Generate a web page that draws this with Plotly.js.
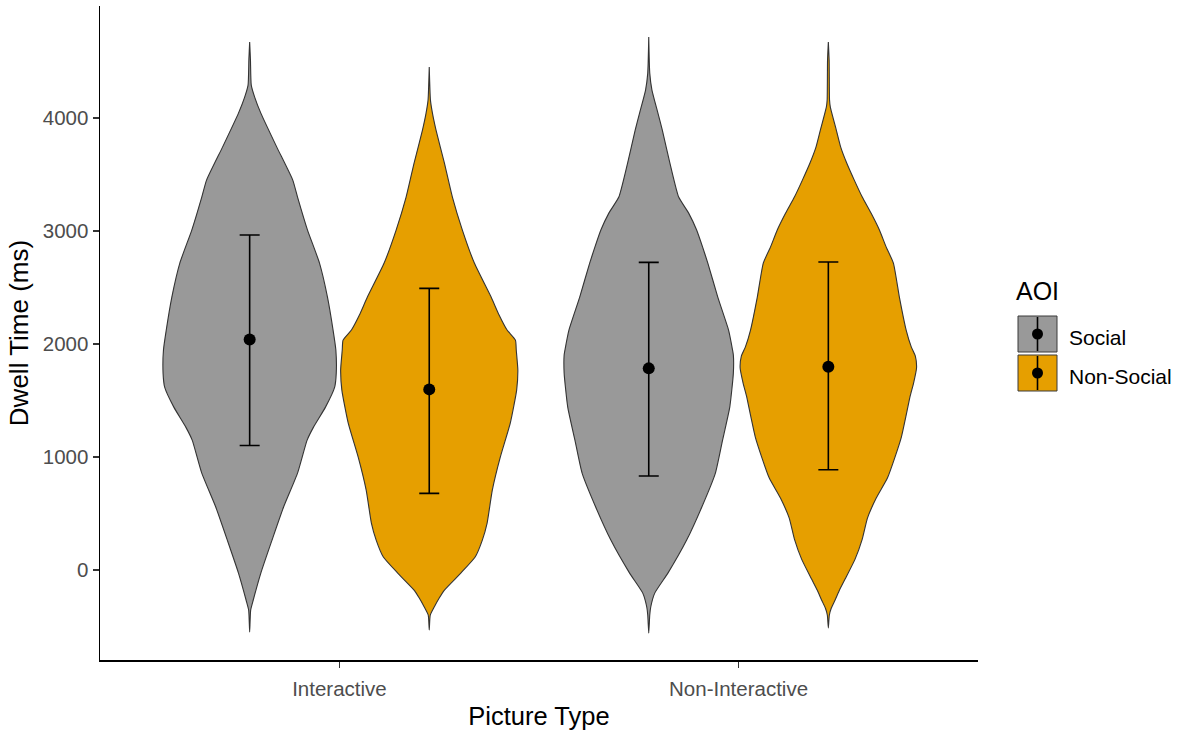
<!DOCTYPE html>
<html>
<head>
<meta charset="utf-8">
<script src="https://cdn.plot.ly/plotly-3.0.1.min.js"></script>
<style>
  html, body { margin: 0; padding: 0; background: #ffffff; }
  #chart { width: 1181px; height: 731px; }
</style>
</head>
<body>
<div id="chart"></div>
<script>
// ---------------- DATA ----------------
const categories = ['Interactive', 'Non-Interactive'];
const aoiGroups = ['Social', 'Non-Social'];
const yTicks = [0, 1000, 2000, 3000, 4000];

// Violin outlines: dwell-time levels (ms) and the half-width of the density at each level (x-axis units)
const interactiveSocialY = [-549, -354, -265, -27, 265, 558, 858, 1150, 1265, 1442, 1619, 1743, 1947, 2124, 2416, 2717, 3009, 3301, 3451, 3743, 4044, 4186, 4292, 4513, 4673];
const interactiveSocialHalfWidth = [0, 0.0025, 0.009, 0.028, 0.056, 0.085, 0.120, 0.144, 0.160, 0.190, 0.213, 0.217, 0.216, 0.209, 0.195, 0.175, 0.145, 0.120, 0.108, 0.068, 0.028, 0.0125, 0.004, 0.002, 0];

const interactiveNonSocialY = [-531, -398, -327, -248, -177, -27, 115, 265, 416, 708, 1000, 1301, 1593, 1770, 1947, 2035, 2124, 2257, 2416, 2717, 3009, 3301, 3602, 3894, 4044, 4159, 4451];
const interactiveNonSocialHalfWidth = [0, 0.0025, 0.0125, 0.025, 0.038, 0.079, 0.115, 0.133, 0.145, 0.158, 0.178, 0.203, 0.219, 0.222, 0.218, 0.216, 0.195, 0.175, 0.155, 0.113, 0.083, 0.058, 0.038, 0.017, 0.008, 0.003, 0];

const nonInteractiveSocialY = [-558, -398, -327, -204, -27, 265, 558, 858, 1150, 1442, 1743, 1903, 1947, 2124, 2416, 2717, 2858, 3009, 3159, 3301, 3602, 3894, 4044, 4248, 4398, 4717];
const nonInteractiveSocialHalfWidth = [0, 0.0025, 0.005, 0.015, 0.048, 0.095, 0.133, 0.167, 0.185, 0.203, 0.212, 0.212, 0.210, 0.200, 0.173, 0.148, 0.135, 0.120, 0.100, 0.075, 0.053, 0.034, 0.023, 0.008, 0.0025, 0];

const nonInteractiveNonSocialY = [-513, -398, -336, -265, -177, -80, 97, 274, 460, 637, 814, 1000, 1177, 1354, 1540, 1646, 1788, 1894, 1973, 2124, 2416, 2717, 2858, 3009, 3159, 3301, 3451, 3602, 3743, 3894, 4097, 4159, 4513, 4673];
const nonInteractiveNonSocialHalfWidth = [0, 0.0025, 0.0075, 0.017, 0.028, 0.042, 0.067, 0.085, 0.098, 0.120, 0.148, 0.167, 0.183, 0.194, 0.205, 0.213, 0.221, 0.218, 0.208, 0.195, 0.178, 0.163, 0.145, 0.128, 0.107, 0.085, 0.065, 0.046, 0.031, 0.020, 0.005, 0.003, 0.002, 0];

// Means and error-bar ends (ms), one value per category
const socialMean = [2041, 1785];
const socialUpper = [2965, 2723];
const socialLower = [1103, 832];
const nonSocialMean = [1599, 1800];
const nonSocialUpper = [2493, 2726];
const nonSocialLower = [679, 888];

// ---------------- STYLE ----------------
const FONT = '"Liberation Sans", Arial, sans-serif';
const fillColors = {'Social': '#999999', 'Non-Social': '#E69F00'};
const dodge = {'Social': -0.225, 'Non-Social': 0.225};
const W = 1181, H = 731;
const M = {l: 100, r: 203, t: 6, b: 71};
const plotW = W - M.l - M.r, plotH = H - M.t - M.b;
const pxX = px => (px - M.l) / plotW;
const pxY = py => (H - M.b - py) / plotH;

const violinSets = [
  {cat: 0, grp: 'Social', y: interactiveSocialY, hw: interactiveSocialHalfWidth},
  {cat: 0, grp: 'Non-Social', y: interactiveNonSocialY, hw: interactiveNonSocialHalfWidth},
  {cat: 1, grp: 'Social', y: nonInteractiveSocialY, hw: nonInteractiveSocialHalfWidth},
  {cat: 1, grp: 'Non-Social', y: nonInteractiveNonSocialY, hw: nonInteractiveNonSocialHalfWidth}
];

const traces = [];
violinSets.forEach(v => {
  const center = v.cat + 1 + dodge[v.grp];
  const xs = [], ys = [];
  for (let i = 0; i < v.y.length; i++) { xs.push(center + v.hw[i]); ys.push(v.y[i]); }
  for (let i = v.y.length - 1; i >= 0; i--) { xs.push(center - v.hw[i]); ys.push(v.y[i]); }
  traces.push({
    type: 'scatter', mode: 'lines', x: xs, y: ys,
    fill: 'toself', fillcolor: fillColors[v.grp],
    line: {color: '#333333', width: 1.1, shape: 'spline', smoothing: 0.5},
    hoverinfo: 'skip', showlegend: false
  });
});

function summaryTrace(grp, means, uppers, lowers) {
  const xs = categories.map((c, i) => i + 1 + dodge[grp]);
  return {
    type: 'scatter', mode: 'markers', x: xs, y: means,
    marker: {color: '#000000', size: 12},
    error_y: {
      type: 'data', symmetric: false,
      array: means.map((m, i) => uppers[i] - m),
      arrayminus: means.map((m, i) => m - lowers[i]),
      color: '#000000', thickness: 1.6, width: 10
    },
    showlegend: false, name: grp
  };
}
traces.push(summaryTrace('Social', socialMean, socialUpper, socialLower));
traces.push(summaryTrace('Non-Social', nonSocialMean, nonSocialUpper, nonSocialLower));

// ---------------- LEGEND (drawn) ----------------
const shapes = [];
const annotations = [];
annotations.push({
  xref: 'paper', yref: 'paper', x: pxX(1014), y: pxY(291), xanchor: 'left', yanchor: 'middle',
  text: 'AOI', showarrow: false, font: {family: FONT, size: 25, color: '#000000'}
});
aoiGroups.forEach((g, i) => {
  const top = 316 + i * 39, bot = top + 36;
  const cx = 1037.5, cy = (top + bot) / 2;
  shapes.push({type: 'rect', xref: 'paper', yref: 'paper',
    x0: pxX(1018), x1: pxX(1057), y0: pxY(bot), y1: pxY(top),
    fillcolor: fillColors[g], line: {color: '#3a3a3a', width: 1}});
  shapes.push({type: 'line', xref: 'paper', yref: 'paper',
    x0: pxX(cx), x1: pxX(cx), y0: pxY(bot - 1), y1: pxY(top + 1),
    line: {color: '#000000', width: 1.6}});
  shapes.push({type: 'circle', xref: 'paper', yref: 'paper',
    xsizemode: 'pixel', ysizemode: 'pixel', xanchor: pxX(cx), yanchor: pxY(cy),
    x0: -5.5, x1: 5.5, y0: -5.5, y1: 5.5, fillcolor: '#000000', line: {width: 0}});
  annotations.push({
    xref: 'paper', yref: 'paper', x: pxX(1067), y: pxY(cy + 3), xanchor: 'left', yanchor: 'middle',
    text: g, showarrow: false, font: {family: FONT, size: 21, color: '#000000'}
  });
});

const layout = {
  width: W, height: H,
  margin: M,
  paper_bgcolor: '#ffffff', plot_bgcolor: '#ffffff',
  showlegend: false,
  font: {family: FONT},
  xaxis: {
    range: [0.4, 2.6], tickvals: categories.map((c, i) => i + 1), ticktext: categories,
    showgrid: false, zeroline: false, showline: true, linecolor: '#000000', linewidth: 1.5,
    ticks: 'outside', ticklen: 6, tickcolor: '#333333', tickwidth: 1.2,
    ticklabelstandoff: 4,
    tickfont: {family: FONT, size: 20.5, color: '#4D4D4D'},
    title: {text: 'Picture Type', font: {family: FONT, size: 25.5, color: '#000000'}, standoff: 8},
    fixedrange: true
  },
  yaxis: {
    range: [-796, 4992], tickvals: yTicks, ticktext: yTicks.map(String),
    showgrid: false, zeroline: false, showline: true, linecolor: '#000000', linewidth: 1.5,
    ticks: 'outside', ticklen: 6, tickcolor: '#333333', tickwidth: 1.2,
    tickfont: {family: FONT, size: 20.5, color: '#4D4D4D'},
    title: {text: 'Dwell Time (ms)', font: {family: FONT, size: 26, color: '#000000'}, standoff: 6},
    fixedrange: true
  },
  shapes: shapes,
  annotations: annotations
};

Plotly.newPlot('chart', traces, layout, {displayModeBar: false, staticPlot: true});
</script>
</body>
</html>
